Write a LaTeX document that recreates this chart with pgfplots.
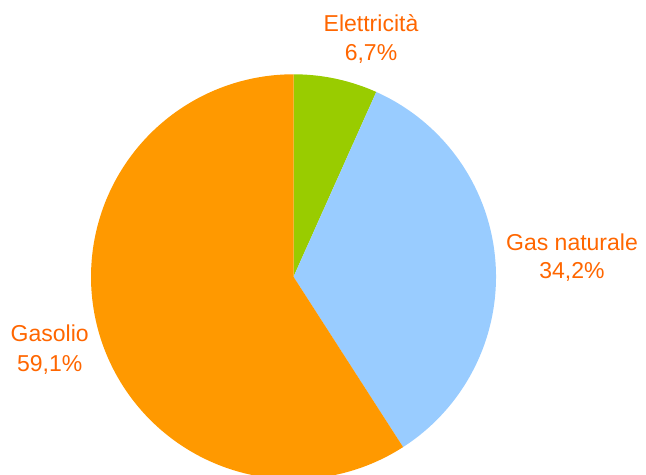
\documentclass[border=0pt]{standalone}
\usepackage{pgfplots}
\usepackage{pgfplotstable}
\pgfplotsset{compat=1.18}
\usepackage{fontspec}
\setmainfont{Liberation Sans}
\definecolor{cGreen}{HTML}{99CC00}
\definecolor{cBlue}{HTML}{99CCFF}
\definecolor{cOrange}{HTML}{FF9900}
\definecolor{cText}{HTML}{FF6600}
\pgfplotstableread{
label share
Elettricita 6.7
GasNaturale 34.2
Gasolio 59.1
}\piedata
\pgfplotstablegetelem{0}{share}\of\piedata \let\sA\pgfplotsretval
\pgfplotstablegetelem{1}{share}\of\piedata \let\sB\pgfplotsretval
\pgfplotstablegetelem{2}{share}\of\piedata \let\sC\pgfplotsretval
\pgfmathsetmacro{\aZero}{90}
\pgfmathsetmacro{\aA}{90-3.6*\sA}
\pgfmathsetmacro{\aB}{\aA-3.6*\sB}
\pgfmathsetmacro{\aC}{\aB-3.6*\sC}
\begin{document}
\begin{tikzpicture}
\begin{axis}[
  scale only axis,
  width=323pt, height=237.5pt,
  xmin=-1.4494, xmax=1.7407,
  ymin=-0.9788, ymax=1.3669,
  hide axis,
]
\path (rel axis cs:0,0) rectangle (rel axis cs:1,1);
\addplot[fill=cGreen, draw=none, domain=\aA:\aZero, samples=60, variable=\t] ({cos(t)},{sin(t)}) -- (axis cs:0,0) -- cycle;
\addplot[fill=cBlue, draw=none, domain=\aB:\aA, samples=120, variable=\t] ({cos(t)},{sin(t)}) -- (axis cs:0,0) -- cycle;
\addplot[fill=cOrange, draw=none, domain=\aC:\aB, samples=180, variable=\t] ({cos(t)},{sin(t)}) -- (axis cs:0,0) -- cycle;
\begin{scope}[every node/.style={text=cText, anchor=base, font=\fontsize{11.5}{14}\selectfont, inner sep=0pt}]
\node at (axis cs:0.3827,1.2104) {Elettricità};
\node at (axis cs:0.3827,1.0657) {6,7\%};
\node at (axis cs:1.3753,0.1289) {Gas naturale};
\node at (axis cs:1.3753,-0.0074) {34,2\%};
\node at (axis cs:-1.204,-0.3205) {Gasolio};
\node at (axis cs:-1.204,-0.4686) {59,1\%};
\end{scope}
\end{axis}
\end{tikzpicture}
\end{document}
